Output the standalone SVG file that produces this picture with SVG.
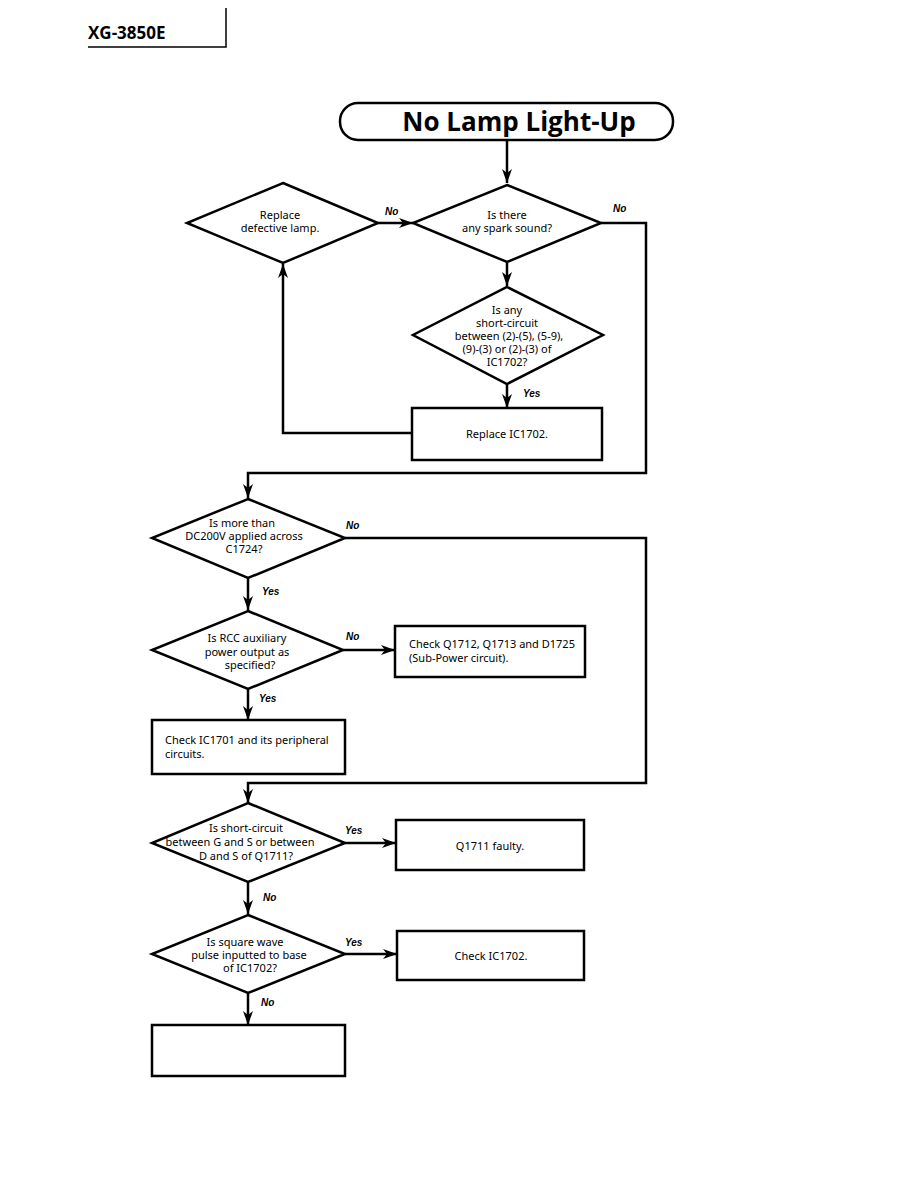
<svg xmlns="http://www.w3.org/2000/svg" width="918" height="1188" viewBox="0 0 918 1188">
<defs>
<marker id="ah" viewBox="0 0 14 10" refX="14" refY="5" markerWidth="14" markerHeight="10" markerUnits="userSpaceOnUse" orient="auto">
<path d="M0,0 L14,5 L0,10 L4,5 Z" fill="#000"/>
</marker>
<style>
.s{fill:#fff;stroke:#000;stroke-width:2.5}
.c{fill:none;stroke:#000;stroke-width:2.5}
.t{font-family:"Noto Sans","Open Sans",sans-serif;font-size:11px;fill:#000;text-anchor:middle}
.l{text-anchor:start}
.lab{font-family:"Liberation Sans",Arial,sans-serif;font-size:10px;font-weight:bold;font-style:italic;fill:#000}
</style>
</defs>
<rect width="918" height="1188" fill="#fff"/>
<g id="header">
<text x="88" y="39" font-family="'Open Sans','Noto Sans',sans-serif" font-size="17" font-weight="bold">XG-3850E</text>
<path d="M88,47 H226 V8" fill="none" stroke="#000" stroke-width="1.5"/>
</g>
<g id="title">
<rect x="340" y="103" width="333" height="37" rx="18" ry="18" class="s"/>
<text x="519" y="131" font-family="'Open Sans','Noto Sans',sans-serif" font-size="26" font-weight="bold" text-anchor="middle">No Lamp Light-Up</text>
</g>
<g id="connectors">
<path d="M507,140 V183" class="c" marker-end="url(#ah)"/>
<path d="M378,223 H413" class="c" marker-end="url(#ah)"/>
<path d="M601,223 H646 V473 H248 V498" class="c" marker-end="url(#ah)"/>
<path d="M507,262 V286" class="c" marker-end="url(#ah)"/>
<path d="M507,384 V408" class="c" marker-end="url(#ah)"/>
<path d="M412,433 H283 V264" class="c" marker-end="url(#ah)"/>
<path d="M345,538 H646 V783 H248 V803" class="c" marker-end="url(#ah)"/>
<path d="M248,578 V610" class="c" marker-end="url(#ah)"/>
<path d="M343,650 H395" class="c" marker-end="url(#ah)"/>
<path d="M248,689 V720" class="c" marker-end="url(#ah)"/>
<path d="M345,843 H396" class="c" marker-end="url(#ah)"/>
<path d="M248,882 V914" class="c" marker-end="url(#ah)"/>
<path d="M345,954 H397" class="c" marker-end="url(#ah)"/>
<path d="M248,993 V1025" class="c" marker-end="url(#ah)"/>
<text x="385" y="215" class="lab">No</text>
<text x="613" y="212" class="lab">No</text>
<text x="523" y="397" class="lab">Yes</text>
<text x="346" y="529" class="lab">No</text>
<text x="262" y="595" class="lab">Yes</text>
<text x="346" y="640" class="lab">No</text>
<text x="259" y="702" class="lab">Yes</text>
<text x="345" y="834" class="lab">Yes</text>
<text x="263" y="901" class="lab">No</text>
<text x="345" y="946" class="lab">Yes</text>
<text x="261" y="1006" class="lab">No</text>
</g>
<g id="replace-lamp">
<polygon points="283,183 378,223 283,263 187,223" class="s"/>
<text x="280" y="219" class="t">Replace</text>
<text x="280" y="232" class="t">defective lamp.</text>
</g>
<g id="spark">
<polygon points="507,185 601,223 507,262 413,223" class="s"/>
<text x="507" y="219" class="t">Is there</text>
<text x="507" y="232" class="t">any spark sound?</text>
</g>
<g id="short-ic">
<polygon points="507,287 603,335 507,384 413,335" class="s"/>
<text x="507" y="314" class="t" font-size="10.5">Is any</text>
<text x="507" y="327" class="t" font-size="10.5">short-circuit</text>
<text x="509" y="340" class="t" font-size="10.5">between (2)-(5), (5-9),</text>
<text x="507" y="353" class="t" font-size="10.5">(9)-(3) or (2)-(3) of</text>
<text x="507" y="366" class="t" font-size="10.5">IC1702?</text>
</g>
<g id="replace-ic">
<rect x="412" y="408" width="190" height="52" class="s"/>
<text x="507" y="438" class="t">Replace IC1702.</text>
</g>
<g id="dc200">
<polygon points="248,499 345,538 248,578 152,538" class="s"/>
<text x="242" y="527" class="t">Is more than</text>
<text x="244" y="540" class="t">DC200V applied across</text>
<text x="244" y="553" class="t">C1724?</text>
</g>
<g id="rcc">
<polygon points="248,611 343,650 248,689 152,650" class="s"/>
<text x="247" y="642" class="t">Is RCC auxiliary</text>
<text x="247" y="656" class="t">power output as</text>
<text x="250" y="669" class="t">specified?</text>
</g>
<g id="check-q1712">
<rect x="395" y="626" width="190" height="51" class="s"/>
<text x="409" y="648" class="t l">Check Q1712, Q1713 and D1725</text>
<text x="409" y="662" class="t l">(Sub-Power circuit).</text>
</g>
<g id="check-ic1701">
<rect x="152" y="720" width="193" height="54" class="s"/>
<text x="165" y="744" class="t l">Check IC1701 and its peripheral</text>
<text x="165" y="758" class="t l">circuits.</text>
</g>
<g id="gs-short">
<polygon points="248,803 345,843 248,882 152,843" class="s"/>
<text x="246" y="832" class="t">Is short-circuit</text>
<text x="240" y="846" class="t">between G and S or between</text>
<text x="246" y="860" class="t">D and S of Q1711?</text>
</g>
<g id="q1711">
<rect x="396" y="820" width="188" height="50" class="s"/>
<text x="490" y="850" class="t">Q1711 faulty.</text>
</g>
<g id="square">
<polygon points="248,915 345,954 248,993 152,954" class="s"/>
<text x="245" y="946" class="t">Is square wave</text>
<text x="249" y="959" class="t">pulse inputted to base</text>
<text x="250" y="972" class="t">of IC1702?</text>
</g>
<g id="check-ic1702">
<rect x="397" y="931" width="187" height="49" class="s"/>
<text x="491" y="960" class="t">Check IC1702.</text>
</g>
<g id="empty-box">
<rect x="152" y="1025" width="193" height="51" class="s"/>
</g>
</svg>
